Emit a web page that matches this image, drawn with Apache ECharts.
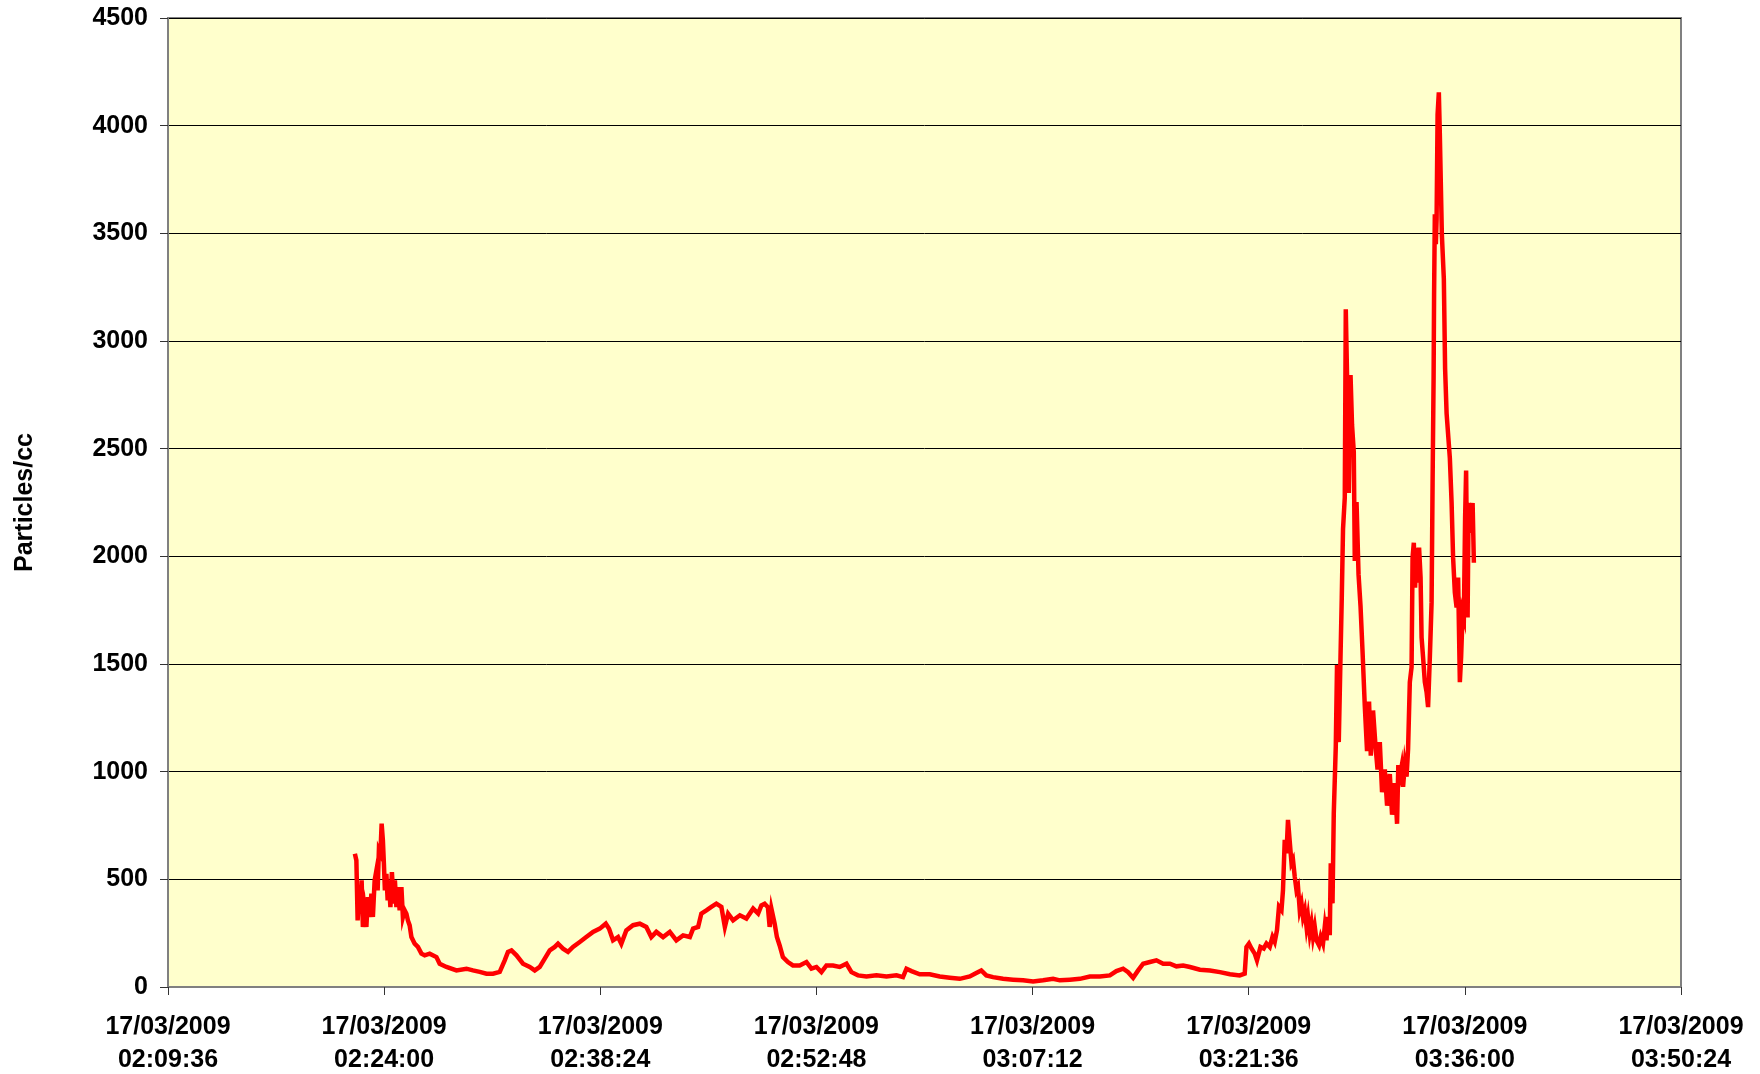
<!DOCTYPE html>
<html>
<head>
<meta charset="utf-8">
<title>Particles/cc</title>
<script src="https://cdn.jsdelivr.net/npm/echarts@6/dist/echarts.min.js"></script>
<style>
  html, body { margin: 0; padding: 0; background: #fff; }
  #particleChart { width: 1760px; height: 1074px; }
</style>
</head>
<body>
<div id="particleChart"></div>
<script>
// sample time, seconds since midnight of 17/03/2009
const secs = [
  8523, 8529, 8534, 8539, 8545, 8550, 8555, 8562, 8569, 8575,
  8582, 8589, 8595, 8602, 8609, 8614, 8619, 8625, 8630, 8635,
  8639, 8643, 8649, 8654, 8659, 8665, 8671, 8678, 8683, 8689,
  8695, 8702, 8709, 8715, 8722, 8729, 8735, 8742, 8749,
  8762, 8775, 8789, 8802, 8822, 8849, 8862, 8889, 8929, 8969,
  8995, 9022, 9049, 9075, 9102, 9122, 9135, 9149, 9169, 9195,
  9222, 9242, 9262, 9282, 9302, 9322, 9335, 9355, 9375, 9395,
  9422, 9448, 9475, 9502, 9526, 9539, 9555, 9575, 9588, 9608,
  9635, 9662, 9688, 9708, 9728, 9755, 9782, 9808, 9835, 9862,
  9875, 9895, 9908, 9928, 9948, 9968, 9988, 10002, 10015, 10035,
  10062, 10088, 10115, 10135, 10148, 10161, 10174, 10181, 10188, 10201,
  10210, 10221, 10234, 10254, 10274, 10301, 10328, 10348, 10368, 10388,
  10408, 10434, 10461, 10488, 10508, 10534, 10568, 10608, 10648, 10688,
  10714, 10728, 10748, 10781, 10821, 10861, 10901, 10941, 10981, 11007,
  11027, 11047, 11074, 11114, 11154, 11194, 11234, 11274, 11314, 11341,
  11381, 11421, 11461, 11501, 11541, 11567, 11594, 11614, 11634, 11654,
  11674, 11701, 11727, 11754, 11781, 11807, 11834, 11861, 11901, 11941,
  11981, 12021, 12060, 12080, 12087, 12097, 12107, 12120, 12129, 12143,
  12156, 12167, 12180, 12191, 12200, 12209, 12217, 12227, 12233, 12240,
  12247, 12253, 12260, 12267, 12273, 12280, 12287, 12293, 12300, 12307,
  12313, 12320, 12327, 12333, 12340, 12347, 12353, 12360, 12367, 12377,
  12384, 12393, 12400, 12407, 12413, 12420, 12424, 12431, 12436, 12444,
  12449, 12456, 12463, 12468, 12473, 12480, 12484, 12489, 12496, 12503,
  12509, 12516, 12520, 12527, 12535, 12543, 12551, 12560, 12569, 12577,
  12584, 12593, 12603, 12611, 12620, 12629, 12640, 12649, 12660, 12669,
  12680, 12689, 12694, 12700, 12707, 12713, 12720, 12727, 12733, 12740,
  12747, 12751, 12756, 12761, 12767, 12771, 12777, 12783, 12787, 12793,
  12800, 12807, 12813, 12820, 12827, 12831, 12835, 12837, 12840, 12844,
  12847, 12851, 12856, 12860, 12864, 12868, 12873, 12876, 12881, 12887,
  12893, 12900, 12907, 12913, 12920, 12927, 12933, 12940, 12945, 12951,
  12956, 12961, 12965, 12971, 12975, 12980, 12987, 12991, 12996
]

// Particles/cc
const counts = [
  619, 588, 309, 418, 356, 495, 279, 356, 279, 418,
  325, 433, 325, 495, 541, 449, 635, 619, 759, 681,
  573, 449, 526, 402, 495, 371, 534, 387, 495, 371,
  464, 356, 464, 325, 356, 340, 309, 286, 232,
  201, 186, 155, 147, 155, 139, 108, 93, 77, 85,
  77, 70, 62, 62, 70, 124, 163, 170, 147, 108,
  93, 77, 93, 132, 170, 186, 201, 178, 163, 186,
  209, 232, 256, 271, 294, 271, 217, 232, 201, 263,
  287, 294, 279, 232, 256, 232, 256, 217, 240, 232,
  271, 279, 341, 356, 372, 387, 372, 279, 341, 310,
  333, 318, 364, 341, 379, 387, 371, 279, 364, 294,
  232, 193, 139, 116, 100, 100, 116, 85, 93, 69,
  100, 100, 93, 108, 69, 54, 49, 54, 49, 54,
  46, 85, 74, 59, 59, 49, 43, 38, 49, 65,
  77, 54, 46, 38, 34, 31, 26, 31, 38, 31,
  34, 38, 49, 49, 54, 74, 85, 69, 43, 77,
  108, 116, 124, 108, 108, 96, 100, 93, 80, 77,
  69, 59, 54, 62, 186, 202, 179, 155, 124, 186,
  179, 202, 186, 233, 210, 264, 373, 357, 450, 683,
  621, 776, 784, 575, 590, 512, 450, 466, 357, 388,
  326, 357, 280, 326, 248, 295, 233, 280, 217, 194,
  233, 202, 280, 217, 326, 241, 575, 388, 807, 1116,
  1495, 1137, 1537, 1810, 2126, 2273, 3147, 2842, 2294, 2842,
  2610, 2484, 1979, 2252, 1916, 1768, 1558, 1305, 1095, 1326,
  1074, 1284, 1116, 1010, 1137, 905, 1010, 842, 989, 800,
  947, 758, 1031, 977, 1023, 930, 1034, 977, 1104, 1416,
  1485, 1994, 2063, 1855, 2040, 1878, 2040, 1901, 1624, 1531,
  1416, 1370, 1300, 1531, 1785, 2340, 2826, 3219, 3589, 3450,
  3566, 4051, 4155, 3958, 3727, 3496, 3496, 3288, 2872, 2664,
  2664, 2456, 2248, 1994, 1832, 1762, 1901, 1416, 1531, 1739,
  1716, 2179, 2398, 1716, 2248, 2202, 2109, 2248, 1970
]

const dateLabel = '17/03/2009'
const xMin = 7776   // 02:09:36
const xMax = 13824  // 03:50:24
const xStep = 864   // 14:24
const yMax = 4500
const yStep = 500

const font = "'Liberation Sans', Arial, sans-serif"

function pad (n) {
  return (n < 10 ? '0' : '') + n
}
function clock (s) {
  const h = Math.floor(s / 3600)
  const m = Math.floor((s % 3600) / 60)
  return pad(h) + ':' + pad(m) + ':' + pad(s % 60)
}

const points = secs.map((s, i) => [s, counts[i]])

const option = {
  animation: false,
  backgroundColor: '#ffffff',
  grid: {
    left: 168,
    right: 79,
    top: 18,
    bottom: 87,
    outerBoundsMode: 'none',
    containLabel: false,
    show: true,
    backgroundColor: '#ffffcc',
    borderColor: '#808080',
    borderWidth: 2
  },
  xAxis: {
    type: 'value',
    min: xMin,
    max: xMax,
    interval: xStep,
    axisLine: {
      show: true,
      onZero: false,
      lineStyle: { color: '#808080', width: 2 }
    },
    axisTick: {
      show: true,
      length: 8,
      lineStyle: { color: '#333333', width: 1 }
    },
    splitLine: { show: false },
    axisLabel: {
      margin: 24,
      color: '#000',
      fontFamily: font,
      fontWeight: 'bold',
      fontSize: 25,
      lineHeight: 33,
      formatter: (v) => dateLabel + '\n' + clock(v)
    }
  },
  yAxis: {
    type: 'value',
    min: 0,
    max: yMax,
    interval: yStep,
    name: 'Particles/cc',
    nameLocation: 'middle',
    nameRotate: 90,
    nameGap: 130,
    nameTextStyle: {
      color: '#000',
      fontFamily: font,
      fontWeight: 'bold',
      fontSize: 25
    },
    axisLine: {
      show: true,
      lineStyle: { color: '#808080', width: 2 }
    },
    axisTick: {
      show: true,
      length: 8,
      lineStyle: { color: '#333333', width: 1 }
    },
    splitLine: {
      show: true,
      lineStyle: { color: '#000', width: 1 }
    },
    axisLabel: {
      margin: 20,
      color: '#000',
      fontFamily: font,
      fontWeight: 'bold',
      fontSize: 25,
      formatter: (v) => String(v)
    }
  },
  series: [
    {
      name: 'Particles/cc',
      type: 'line',
      data: points,
      showSymbol: false,
      symbol: 'none',
      sampling: null,
      lineStyle: { color: '#ff0000', width: 4.5, join: 'miter' },
      z: 3
    }
  ]
}

const myChart = echarts.init(document.getElementById('particleChart'))
myChart.setOption(option)
window.addEventListener('resize', () => {
  myChart.resize()
})
</script>
</body>
</html>
